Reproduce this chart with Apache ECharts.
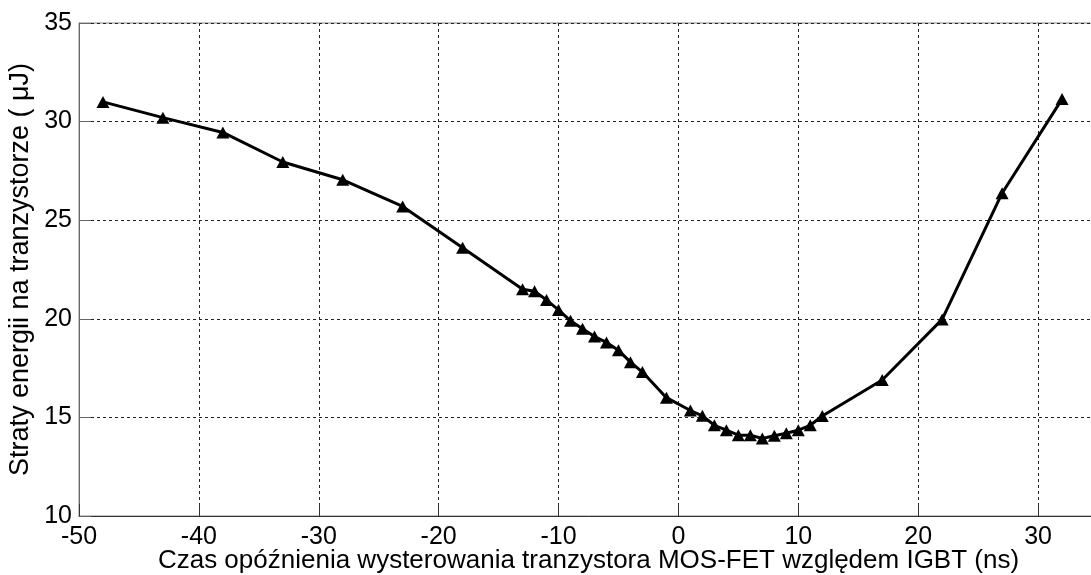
<!DOCTYPE html>
<html>
<head>
<meta charset="utf-8">
<script src="https://cdn.jsdelivr.net/npm/echarts@6/dist/echarts.min.js"></script>
<style>
html,body{margin:0;padding:0;background:#fff;overflow:hidden;width:1091px;height:575px;}
#chart{width:1120px;height:575px;}
</style>
</head>
<body>
<div id="chart"></div>
<script>
const delays = [-48,-43,-38,-33,-28,-23,-18,-13,-12,-11,-10,-9,-8,-7,-6,-5,-4,-3,-1,1,2,3,4,5,6,7,8,9,10,11,12,17,22,27,32];
const losses = [31.0,30.2,29.45,27.95,27.05,25.7,23.6,21.5,21.4,20.95,20.45,19.9,19.5,19.1,18.8,18.4,17.8,17.3,16.0,15.35,15.08,14.6,14.35,14.1,14.1,13.93,14.07,14.2,14.35,14.6,15.07,16.9,19.97,26.37,31.14];
const xTitle = 'Czas opóźnienia wysterowania tranzystora MOS-FET względem IGBT (ns)';
const yTitle = 'Straty energii na tranzystorze ( μJ)';

const font = '"Liberation Sans", Arial, sans-serif';
const chart = echarts.init(document.getElementById('chart'), null, {renderer: 'canvas'});
chart.setOption({
  animation: false,
  backgroundColor: '#fff',
  grid: {left: 79, top: 23, right: 22, bottom: 59, containLabel: false, outerBoundsMode: 'none',
    show: true, borderColor: '#888', borderWidth: 1, backgroundColor: 'transparent'},
  xAxis: {
    type: 'value', min: -50, max: 35, interval: 10,
    name: xTitle, nameLocation: 'middle', nameGap: 32, nameMoveOverlap: false,
    nameTextStyle: {fontFamily: font, fontSize: 26, color: '#000'},
    axisLine: {show: true, onZero: false, lineStyle: {color: '#333', width: 1}},
    axisTick: {show: true, inside: true, length: 12, lineStyle: {color: '#333'}},
    axisLabel: {fontFamily: font, fontSize: 25, color: '#000', margin: 9,
      formatter: v => (v > 30 ? '' : String(v))},
    splitLine: {show: true, lineStyle: {color: '#222', type: [3, 3], width: 1}}
  },
  yAxis: {
    type: 'value', min: 10, max: 35, interval: 5,
    name: yTitle, nameLocation: 'middle', nameGap: 45, nameMoveOverlap: false,
    nameTextStyle: {fontFamily: font, fontSize: 27, color: '#000'},
    axisLine: {show: true, onZero: false, lineStyle: {color: '#666', width: 1}},
    axisTick: {show: true, inside: true, length: 12, lineStyle: {color: '#666'}},
    axisLabel: {fontFamily: font, fontSize: 25, color: '#000', margin: 7},
    splitLine: {show: true, lineStyle: {color: '#222', type: [3, 3], width: 1}}
  },
  series: [{
    type: 'line',
    data: delays.map((d, i) => [d, losses[i]]),
    lineStyle: {color: '#000', width: 3},
    itemStyle: {color: '#000'},
    symbol: 'triangle',
    symbolSize: [13, 12],
    showAllSymbol: true
  }]
});
</script>
</body>
</html>
